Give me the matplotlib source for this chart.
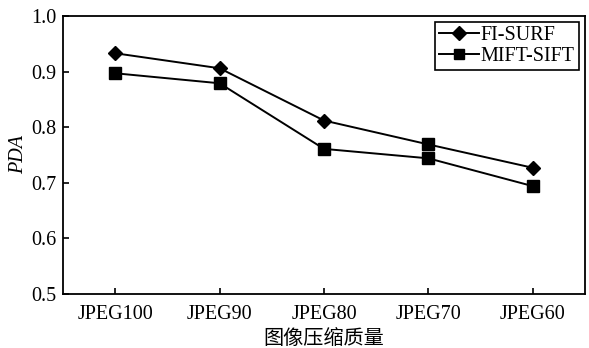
import matplotlib

matplotlib.use("Agg")
import matplotlib.pyplot as plt

categories = ["JPEG100", "JPEG90", "JPEG80", "JPEG70", "JPEG60"]
fi_surf = [0.933, 0.906, 0.812, 0.769, 0.727]
mift_sift = [0.897, 0.879, 0.761, 0.744, 0.694]
# the source figure draws FI-SURF's JPEG70 point as a square
fi_surf_markers = ["D", "D", "D", "s", "D"]
yticks = [0.5, 0.6, 0.7, 0.8, 0.9, 1.0]

plt.rcParams.update({"font.family": ["Liberation Serif", "Noto Sans CJK SC"],
                     "font.size": 14.5, "axes.linewidth": 1.3})

fig = plt.figure(figsize=(5.89, 3.48), dpi=100)
ax = fig.add_axes([63 / 589, 1 - 294 / 348, (585 - 63) / 589, (294 - 16) / 348])

x = list(range(len(categories)))
ax.plot(x, fi_surf, "-", color="black", lw=1.4, zorder=2)
for xi, yi, m in zip(x, fi_surf, fi_surf_markers):
    ax.plot(xi, yi, m, color="black", ms=7.5 if m == "D" else 8, zorder=3)
ax.plot(x, mift_sift, "-s", color="black", lw=1.4, ms=8, zorder=3)

# legend proxies
ax.plot([], [], "-D", color="black", lw=1.4, ms=7, label="FI-SURF")
ax.plot([], [], "-s", color="black", lw=1.4, ms=7, label="MIFT-SIFT")
leg = ax.legend(loc="upper right", fancybox=False, edgecolor="black",
                framealpha=1, fontsize=14.5, handlelength=2.0, handletextpad=0.1,
                borderpad=0.2, labelspacing=0.1, borderaxespad=0.3)
leg.get_frame().set_linewidth(1.2)

ax.set_xlim(-0.5, 4.5)
ax.set_ylim(0.5, 1.0)
ax.set_xticks(x)
ax.set_xticklabels(categories)
ax.set_yticks(yticks)
ax.set_yticklabels([f"{v:.1f}" for v in yticks])
ax.tick_params(direction="in", length=4, width=1.2)
ax.tick_params(axis="x", pad=8)
ax.tick_params(axis="y", pad=5)
ax.set_ylabel("PDA", fontstyle="italic", labelpad=2)
ax.set_xlabel("图像压缩质量", family=["Noto Sans CJK SC"], fontsize=14.5, labelpad=3)

fig.savefig("out.png", dpi=100)
